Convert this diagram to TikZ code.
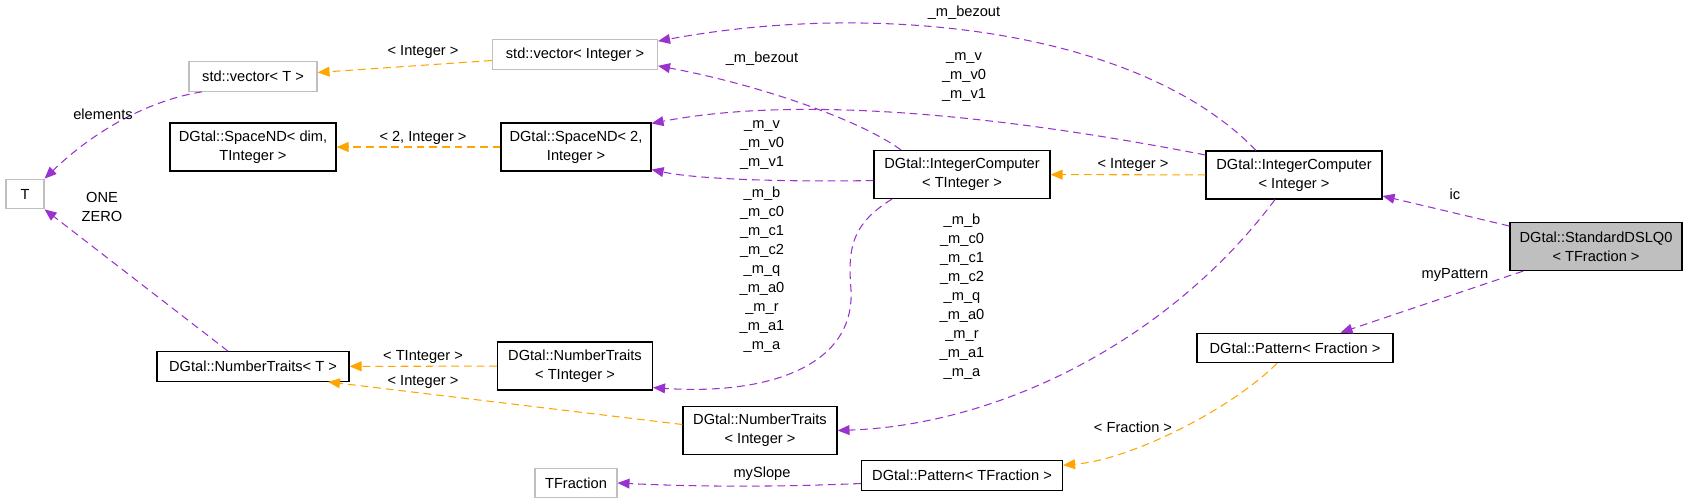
\documentclass[tikz,border=0pt]{standalone}
\usepackage{fontspec}
\setmainfont{Liberation Sans}
\usepackage{tikz}
\usetikzlibrary{positioning,arrows.meta}
\definecolor{orchid}{HTML}{9A32CD}
\definecolor{tmplorange}{HTML}{FFA500}
\definecolor{boxgray}{HTML}{BFBFBF}

\begin{document}
\begin{tikzpicture}[
  x=0.025cm, y=-0.025cm,
  font=\fontsize{10.4}{13.5}\selectfont,
  cls/.style={rectangle, draw=black, line width=0.8pt, align=center, inner sep=1pt, minimum height=0.74cm},
  cls2/.style={cls, minimum height=1.2cm},
  ext/.style={cls, draw=boxgray},
  cur/.style={cls2, fill=boxgray},
  usage/.style={draw=orchid, line width=0.75pt, dash pattern=on 5.5pt off 3.5pt, -{Triangle[length=8.5pt,width=7pt]}},
  tmpl/.style={usage, draw=tmplorange},
  lbl/.style={align=center, inner sep=0pt}
]
\useasboundingbox (0,0) rectangle (1683,504);

% the class itself
\node[cur, minimum width=4.3cm] (dsl) at (1596,246.5) {DGtal::StandardDSLQ0\\< TFraction >};

% members of DGtal::StandardDSLQ0
\node[cls2, minimum width=4.4cm] (icI) at (1294,175) {DGtal::IntegerComputer\\< Integer >};
\node[cls, minimum width=4.9cm] (patF) at (1295,348) {DGtal::Pattern< Fraction >};

% templates
\node[cls2, minimum width=4.4cm] (icT) at (962,174.5) {DGtal::IntegerComputer\\< TInteger >};
\node[cls, minimum width=5.025cm] (patTF) at (962,475.5) {DGtal::Pattern< TFraction >};
\node[cls2, minimum width=3.85cm] (ntI) at (760,430.5) {DGtal::NumberTraits\\< Integer >};
\node[cls2, minimum width=3.875cm] (ntTI) at (575,366) {DGtal::NumberTraits\\< TInteger >};
\node[cls2, minimum width=3.75cm] (sp2) at (576,147) {DGtal::SpaceND< 2,\\Integer >};
\node[ext, minimum width=4.125cm] (vecI) at (575,54.5) {std::vector< Integer >};
\node[ext, minimum width=2.05cm] (tfrac) at (576,483) {TFraction};
\node[cls, minimum width=4.8cm] (ntT) at (253,366.5) {DGtal::NumberTraits< T >};
\node[cls2, minimum width=4.15cm] (spDim) at (253,147) {DGtal::SpaceND< dim,\\TInteger >};
\node[ext, minimum width=3.2cm] (vecT) at (253,76.5) {std::vector< T >};
\node[ext, minimum width=0.95cm] (T) at (25,194) {T};

% usage relations
\draw[usage] (dsl) -- (icI);
\draw[usage] (dsl) -- (patF);
\draw[usage] ([xshift=-0.95cm]icI.north) .. controls (1140,30) and (880,0) .. ([yshift=-0.05cm]vecI.north east);
\draw[usage] ([xshift=-1.525cm]icT.north) .. controls (860,120) and (760,85) .. ([yshift=0.1cm]vecI.south east);
\draw[usage] ([yshift=0.5cm]icI.west) .. controls (1000,115) and (800,95) .. ([yshift=-0.025cm]sp2.north east);
\draw[usage] ([yshift=-0.15cm]icT.west) .. controls (800,182) and (700,180) .. ([yshift=0.05cm]sp2.south east);
\draw[usage] ([xshift=-0.475cm]icI.south) .. controls (1170,340) and (1000,425) .. (ntI.east);
\draw[usage] ([xshift=-1.75cm]icT.south) .. controls (850,225) and (848,250) .. (851,290)
  .. controls (855,370) and (760,395) .. ([yshift=0.075cm]ntTI.south east);
\draw[usage] ([xshift=-1.275cm]vecT.south) .. controls (150,100) and (95,130) .. (T.north east);
\draw[usage] ([xshift=-0.625cm]ntT.north) -- (T.south east);
\draw[usage] ([yshift=-0.2cm]patTF.west) .. controls (780,487) and (700,487) .. (tfrac.east);

% template instances
\foreach \a/\b in {icI/icT, sp2/spDim, ntTI/ntT}
  \draw[tmpl] (\a) -- (\b);
\draw[tmpl] ([yshift=-0.15cm]vecI.west) -- ([yshift=0.1cm]vecT.east);
\draw[tmpl] ([yshift=0.15cm]ntI.west) -- ([xshift=1.875cm]ntT.south);
\draw[tmpl] ([xshift=-0.45cm]patF.south) .. controls (1230,410) and (1130,460) .. ([yshift=-0.125cm]patTF.north east);

% edge labels
\node[lbl] (l-ic) at (1455,194) {ic};
\node[lbl] (l-pattern) at (1455,275) {myPattern};
\node[lbl] (l-bez1) at (964,13) {\_m\_bezout};
\node[lbl] (l-bez2) at (762,59) {\_m\_bezout};
\node[lbl] (l-v1) at (964,77) {\_m\_v\\\_m\_v0\\\_m\_v1};
\node[lbl] (l-v2) at (762,145) {\_m\_v\\\_m\_v0\\\_m\_v1};
\node[lbl] (l-int1) at (1133,165) {< Integer >};
\node[lbl] (l-mb1) at (962,297) {\_m\_b\\\_m\_c0\\\_m\_c1\\\_m\_c2\\\_m\_q\\\_m\_a0\\\_m\_r\\\_m\_a1\\\_m\_a};
\node[lbl] (l-mb2) at (762,270) {\_m\_b\\\_m\_c0\\\_m\_c1\\\_m\_c2\\\_m\_q\\\_m\_a0\\\_m\_r\\\_m\_a1\\\_m\_a};
\node[lbl] (l-int2) at (423,52) {< Integer >};
\node[lbl] (l-2int) at (423,138) {< 2, Integer >};
\node[lbl] (l-elem) at (103,114) {elements};
\node[lbl] (l-one) at (102,207) {ONE\\ZERO};
\node[lbl] (l-tint) at (423,357) {< TInteger >};
\node[lbl] (l-int3) at (423,382) {< Integer >};
\node[lbl] (l-frac) at (1133,427) {< Fraction >};
\node[lbl] (l-slope) at (762,474) {mySlope};
\end{tikzpicture}
\end{document}
